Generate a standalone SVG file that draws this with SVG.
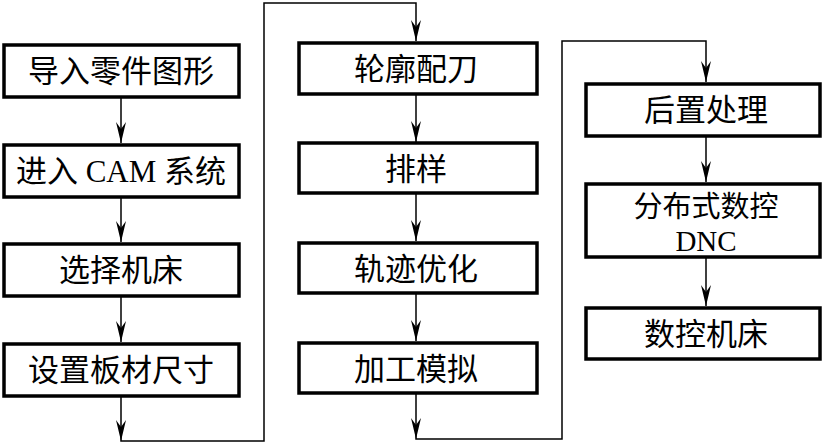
<svg xmlns="http://www.w3.org/2000/svg" width="824" height="444" viewBox="0 0 824 444">
<style>
.box{fill:#fff;stroke:#000;stroke-width:3.5}
.t{font-family:"Liberation Serif","Noto Sans CJK SC",serif;font-size:31px;fill:#000;text-anchor:middle}
.s{font-size:29px}
.c{fill:none;stroke:#000;stroke-width:1.5}
</style>
<rect width="824" height="444" fill="#fff"/>
<g id="connectors">
<line class="c" x1="121" y1="97" x2="121" y2="143"/>
<line class="c" x1="121" y1="197" x2="121" y2="242"/>
<line class="c" x1="121" y1="296" x2="121" y2="342"/>
<polyline class="c" points="121,396 121,441 264,441 264,3 416,3 416,41"/>
<line class="c" x1="416" y1="94" x2="416" y2="142"/>
<line class="c" x1="416" y1="193" x2="416" y2="241"/>
<line class="c" x1="416" y1="293" x2="416" y2="341"/>
<polyline class="c" points="416,393 416,439 562,439 562,41 706,41 706,82"/>
<line class="c" x1="706" y1="136" x2="706" y2="182"/>
<line class="c" x1="706" y1="257" x2="706" y2="306"/>
<g fill="#000">
<path d="M116,122 L121,143 L126,122 L121,129 Z"/>
<path d="M116,221 L121,242 L126,221 L121,228 Z"/>
<path d="M116,321 L121,342 L126,321 L121,328 Z"/>
<path d="M116,420 L121,441 L126,420 L121,427 Z"/>
<path d="M411,20 L416,41 L421,20 L416,27 Z"/>
<path d="M411,121 L416,142 L421,121 L416,128 Z"/>
<path d="M411,220 L416,241 L421,220 L416,227 Z"/>
<path d="M411,320 L416,341 L421,320 L416,327 Z"/>
<path d="M411,418 L416,439 L421,418 L416,425 Z"/>
<path d="M701,61 L706,82 L711,61 L706,68 Z"/>
<path d="M701,161 L706,182 L711,161 L706,168 Z"/>
<path d="M701,285 L706,306 L711,285 L706,292 Z"/>
</g>
</g>
<g id="n1"><rect class="box" x="4" y="45" width="235" height="52"/><text class="t" x="121" y="82">导入零件图形</text></g>
<g id="n2"><rect class="box" x="4" y="145" width="235" height="52"/><text class="t" x="121" y="182">进入 CAM 系统</text></g>
<g id="n3"><rect class="box" x="4" y="244" width="235" height="52"/><text class="t" x="121" y="281">选择机床</text></g>
<g id="n4"><rect class="box" x="4" y="344" width="235" height="52"/><text class="t" x="121" y="381">设置板材尺寸</text></g>
<g id="n5"><rect class="box" x="299" y="43" width="238" height="51"/><text class="t" x="416" y="80">轮廓配刀</text></g>
<g id="n6"><rect class="box" x="299" y="143" width="238" height="50"/><text class="t" x="416" y="180">排样</text></g>
<g id="n7"><rect class="box" x="299" y="243" width="238" height="50"/><text class="t" x="416" y="280">轨迹优化</text></g>
<g id="n8"><rect class="box" x="299" y="343" width="238" height="50"/><text class="t" x="416" y="380">加工模拟</text></g>
<g id="n9"><rect class="box" x="586" y="84" width="234" height="52"/><text class="t" x="706" y="121">后置处理</text></g>
<g id="n10"><rect class="box" x="586" y="184" width="234" height="73"/><text class="t s" x="706" y="217">分布式数控</text><text class="t s" x="706" y="251">DNC</text></g>
<g id="n11"><rect class="box" x="586" y="308" width="234" height="51"/><text class="t" x="706" y="345">数控机床</text></g>
</svg>
